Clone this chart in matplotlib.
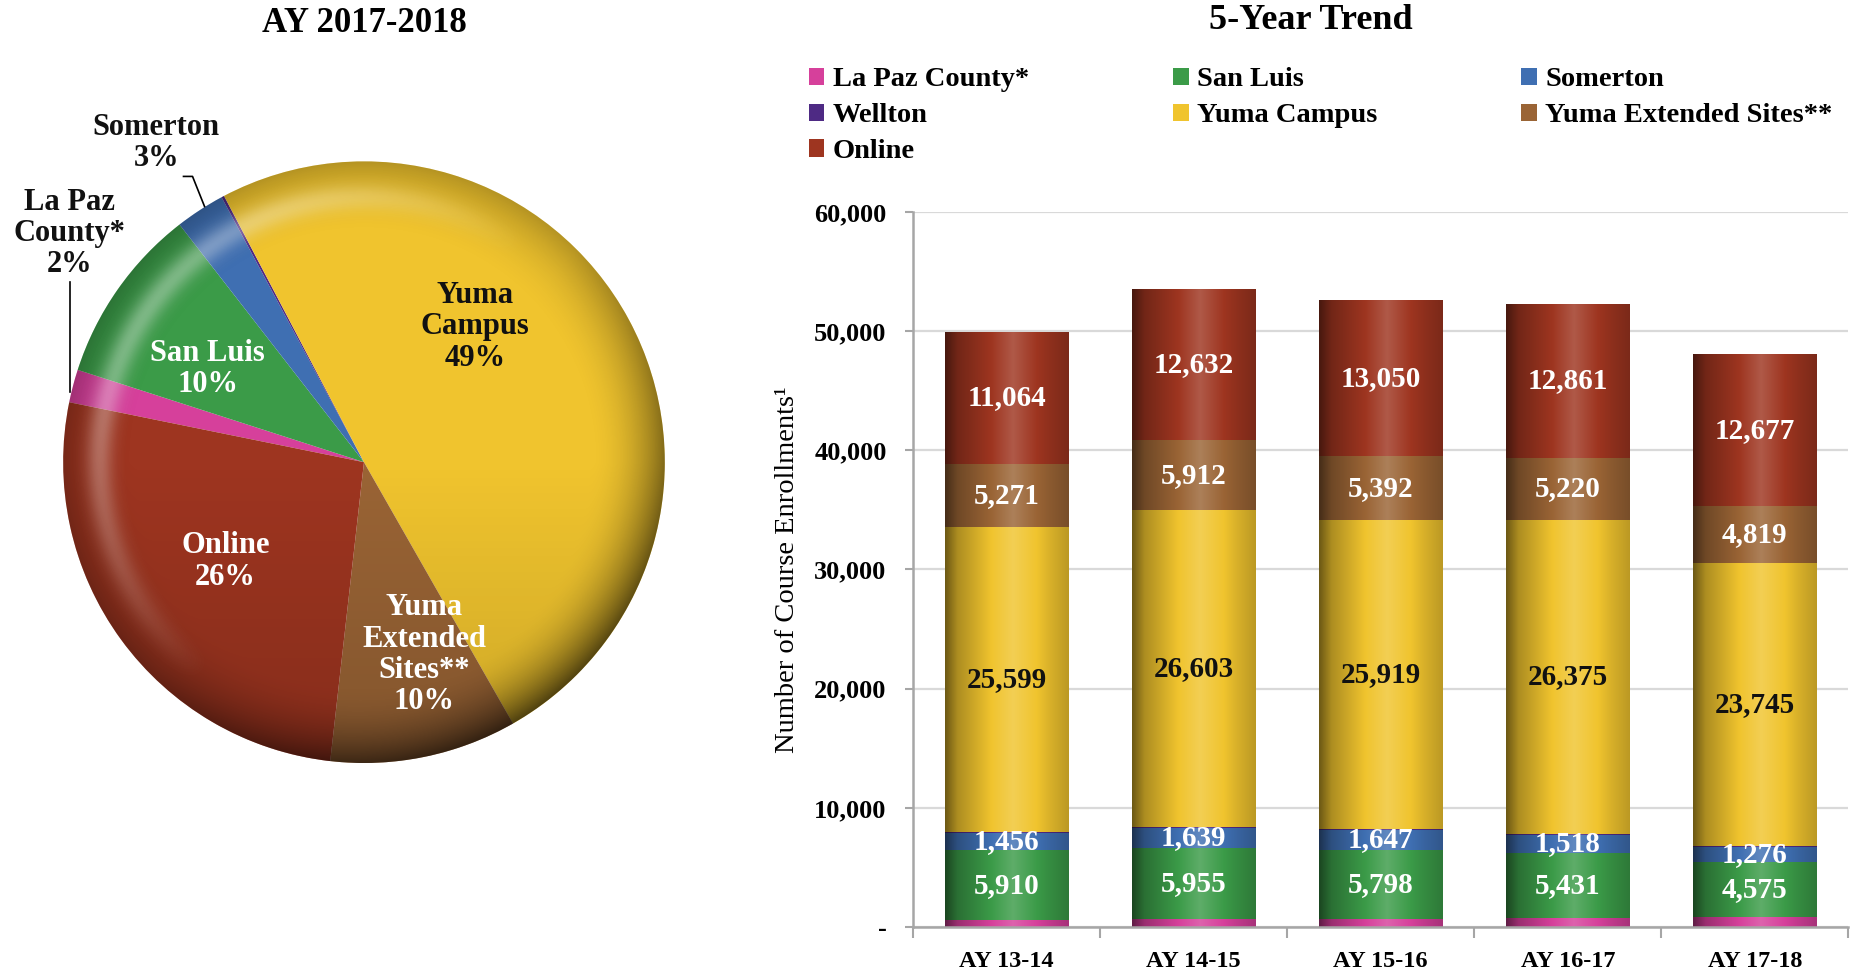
import numpy as np
import matplotlib.pyplot as plt
import matplotlib.colors as mcolors
from matplotlib.patches import Patch, Circle

plt.rcParams['font.family'] = ['Liberation Serif', 'DejaVu Serif']

# data
years = ['AY 13-14', 'AY 14-15', 'AY 15-16', 'AY 16-17', 'AY 17-18']
sites = ['La Paz County*', 'San Luis', 'Somerton', 'Wellton', 'Yuma Campus',
         'Yuma Extended Sites**', 'Online']
la_paz = [560, 700, 700, 780, 850]
san_luis = [5910, 5955, 5798, 5431, 4575]
somerton = [1456, 1639, 1647, 1518, 1276]
wellton = [60, 70, 70, 70, 70]
yuma_campus = [25599, 26603, 25919, 26375, 23745]
yuma_ext = [5271, 5912, 5392, 5220, 4819]
online = [11064, 12632, 13050, 12861, 12677]
series = [la_paz, san_luis, somerton, wellton, yuma_campus, yuma_ext, online]
colors = ['#D6409B', '#3B9B48', '#3F6FB2', '#4E2A84', '#F0C42E', '#9A6435', '#9E3520']
label_colors = [None, 'white', 'white', None, '#111111', 'white', 'white']
yticks = [0, 10000, 20000, 30000, 40000, 50000, 60000]


def shade(ax, bar, color):
    # cylinder-like horizontal gradient on top of a bar
    base = np.array(mcolors.to_rgb(color))
    t = np.linspace(0, 1, 200)
    f = np.interp(t, [0, 0.1, 0.55, 0.85, 1], [0.45, 0.72, 1.18, 0.9, 0.78])[:, None]
    rgb = np.where(f < 1, base * f, base + (1 - base) * (f - 1))
    x0, y0 = bar.get_x(), bar.get_y()
    ax.imshow(rgb[None, :, :], extent=(x0, x0 + bar.get_width(), y0, y0 + bar.get_height()),
              aspect='auto', interpolation='bilinear', zorder=2)


fig = plt.figure(figsize=(18.69, 9.71), dpi=100)

# ---- pie (last year) ----
pie_vals = [s[-1] for s in series]
total = sum(pie_vals)
axp = fig.add_axes([0.0305, 0.208, 0.3285, 0.632])
axp.pie(pie_vals, colors=colors, startangle=168.5, counterclock=False,
        wedgeprops=dict(linewidth=0))

# soft 3d look: dark rim bottom-right, light band top-left
n = 500
gx, gy = np.meshgrid(np.linspace(-1, 1, n), np.linspace(-1, 1, n))
r = np.hypot(gx, gy)
ang = np.arctan2(gy, gx)
dark = 0.55 * np.clip((r - 0.75) / 0.25, 0, 1) ** 2 * (0.45 + 0.55 * np.clip(np.cos(ang + np.pi / 4), 0, 1))
dark += 0.15 * np.clip(-gy, 0, 1)
light = 0.35 * np.exp(-((r - 0.88) / 0.045) ** 2) * np.clip(np.cos(ang - 2.5), 0, 1)
black = np.zeros((n, n, 4))
black[..., 3] = np.clip(dark, 0, 1)
white = np.ones((n, n, 4))
white[..., 3] = light
clip = Circle((0, 0), 1.0, transform=axp.transData)
for img in (black, white):
    im = axp.imshow(img, extent=(-1, 1, -1, 1), origin='lower', interpolation='bilinear', zorder=3)
    im.set_clip_path(clip)

axp.set_xlim(-1.02, 1.02)
axp.set_ylim(-1.02, 1.02)
axp.set_aspect('equal')
axp.axis('off')
pct = [f'{v / total * 100:.0f}%' for v in pie_vals]
fs = 22
kw = dict(ha='center', va='center', fontsize=fs, fontweight='bold', linespacing=1.1, zorder=5)
axp.text(0.37, 0.45, f'Yuma\nCampus\n{pct[4]}', color='#111111', **kw)
axp.text(-0.52, 0.31, f'San Luis\n{pct[1]}', color='white', **kw)
axp.text(-0.46, -0.33, f'Online\n{pct[6]}', color='white', **kw)
axp.text(0.20, -0.64, f'Yuma\nExtended\nSites**\n{pct[5]}', color='white', **kw)
axp.text(-0.69, 1.06, f'Somerton\n{pct[2]}', color='#111111', clip_on=False, **kw)
axp.text(-0.98, 0.76, f'La Paz\nCounty*\n{pct[0]}', color='#111111', clip_on=False, **kw)
axp.plot([-0.60, -0.57, -0.53], [0.95, 0.95, 0.85], color='black', lw=1.2, clip_on=False)
axp.plot([-0.977, -0.977], [0.60, 0.235], color='black', lw=1.2, clip_on=False)
fig.text(0.1947, 0.976, 'AY 2017-2018', ha='center', va='center', fontsize=25, fontweight='bold')

# ---- stacked bars ----
ax = fig.add_axes([0.4885, 0.0453, 0.5005, 0.7364])
x = np.arange(len(years))
bottom = np.zeros(len(years))
for vals, col, lc in zip(series, colors, label_colors):
    bars = ax.bar(x, vals, 0.66, bottom=bottom, color=col, linewidth=0, zorder=2)
    for b in bars:
        shade(ax, b, col)
    if lc is not None:
        for xi, v, b0 in zip(x, vals, bottom):
            ax.text(xi, b0 + v / 2, f'{v:,}', ha='center', va='center', fontsize=21,
                    fontweight='bold', color=lc, zorder=4)
    bottom += np.array(vals)

ax.set_xlim(-0.5, len(years) - 0.5)
ax.set_ylim(0, 60000)
ax.set_yticks(yticks)
ax.set_yticklabels(['-' if v == 0 else f'{v:,}' for v in yticks], fontsize=19, fontweight='bold')
ax.set_xticks(x)
ax.set_xticklabels(years, fontsize=17.5, fontweight='bold')
ax.set_xticks(np.arange(len(years) + 1) - 0.5, minor=True)
ax.tick_params(axis='x', which='major', length=0, pad=17)
ax.tick_params(axis='x', which='minor', length=8, color='#a6a6a6', width=1.5)
ax.tick_params(axis='y', length=6, color='#a6a6a6', width=1.5, pad=13)
ax.grid(axis='y', color='#d9d9d9', linewidth=1.6, zorder=0)
ax.set_axisbelow(True)
for s in ['top', 'right']:
    ax.spines[s].set_visible(False)
ax.spines['left'].set_color('#a6a6a6')
ax.spines['left'].set_linewidth(1.8)
ax.spines['bottom'].set_color('#a6a6a6')
ax.spines['bottom'].set_linewidth(1.8)
ax.set_ylabel('Number of Course Enrollments¹', fontsize=20.5)
ax.yaxis.set_label_coords(-0.121, 0.5)

fig.text(0.7015, 0.979, '5-Year Trend', ha='center', va='center', fontsize=26, fontweight='bold')

# legend, reordered so it reads row by row
order = [0, 3, 6, 1, 4, 2, 5]
handles = [Patch(facecolor=colors[i], edgecolor='none') for i in order]
labels = [sites[i] for i in order]
fig.legend(handles, labels, loc='upper left', bbox_to_anchor=(0.419, 0.957), ncol=3,
           frameon=False, prop=dict(size=20.5, weight='bold'), handlelength=0.55,
           handleheight=0.55, handletextpad=0.3, columnspacing=5.05, labelspacing=0.38)

fig.savefig('out.png', dpi=100)
